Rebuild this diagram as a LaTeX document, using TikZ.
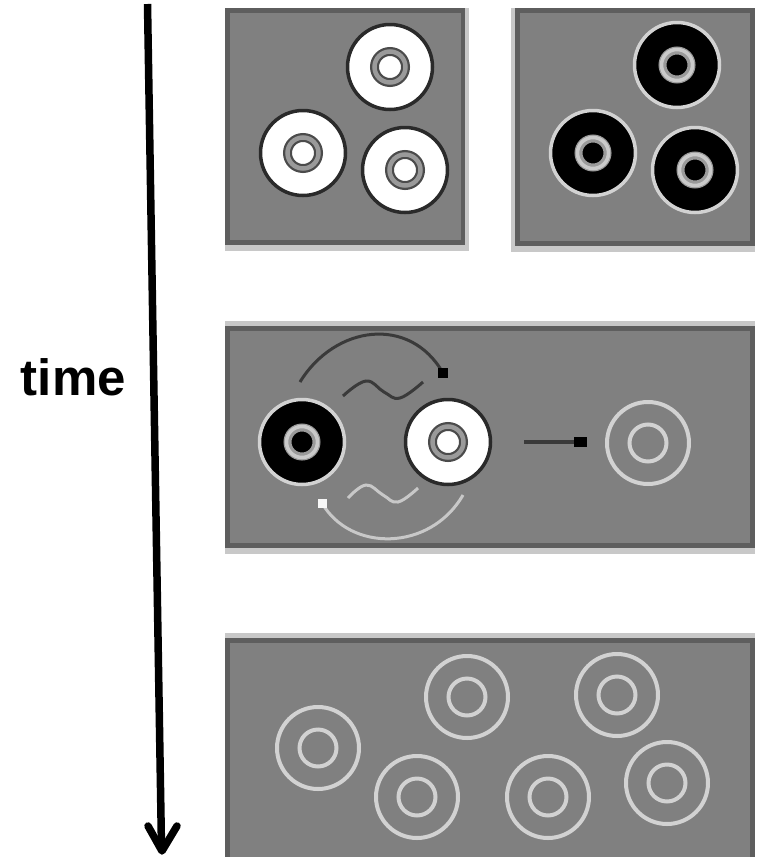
\documentclass[tikz,border=0pt]{standalone}
\usepackage{fontspec}
\usetikzlibrary{calc}
\newfontfamily\labelfont{Liberation Sans}
\definecolor{panelgray}{HTML}{808080}
\definecolor{paneldark}{HTML}{5E5E5E}
\definecolor{lightstrip}{HTML}{C8C8C8}
\definecolor{ringdark}{HTML}{2A2A2A}
\definecolor{ringmid}{HTML}{9A9A9A}
\definecolor{ringlight}{HTML}{D2D2D2}
\definecolor{wavedark}{HTML}{3A3A3A}
\tikzset{
  whitedisc/.pic={
    \draw[draw=ringdark, fill=white, line width=3.5pt] (0,0) circle[radius=42.5pt];
    \draw[draw=paneldark!80!black, line width=9pt] (0,0) circle[radius=15.5pt];
    \draw[draw=ringmid, line width=4.5pt] (0,0) circle[radius=15.5pt];
  },
  blackdisc/.pic={
    \draw[draw=ringlight, fill=black, line width=3.5pt] (0,0) circle[radius=42.5pt];
    \draw[draw=ringmid, line width=8pt] (0,0) circle[radius=14.5pt];
    \draw[draw=ringlight!90!gray, line width=3.5pt] (0,0) circle[radius=15.5pt];
  },
  fadedisc/.pic={
    \draw[draw=ringlight, line width=4pt] (0,0) circle[radius=41pt];
    \draw[draw=ringlight, line width=4pt] (0,0) circle[radius=18.5pt];
  },
  timeline/.style={line width=7.5pt, black},
  darkarc/.style={draw=wavedark, line width=3pt},
  lightarc/.style={draw=lightstrip, line width=3pt},
}
\begin{document}
\begin{tikzpicture}[x=1pt,y=-1pt]
\useasboundingbox (0,0) rectangle (757,857);
% panels
\fill[lightstrip] (225,8) rectangle (469,251);
\fill[paneldark] (225,8) rectangle (465,245);
\fill[panelgray] (230,13) rectangle (461,240);
\fill[lightstrip] (511,8) rectangle (755,252);
\fill[paneldark] (515,8) rectangle (755,246);
\fill[panelgray] (520,13) rectangle (750,241);
\fill[lightstrip] (225,321) rectangle (755,554);
\fill[paneldark] (225,326) rectangle (755,548);
\fill[panelgray] (230,331) rectangle (750,543);
\fill[lightstrip] (225,633) rectangle (755,857);
\fill[paneldark] (225,638) rectangle (755,857);
\fill[panelgray] (230,643) rectangle (750,857);
% time axis
\coordinate (ttop) at (147.5,4);
\coordinate (tbot) at (161.5,848);
\coordinate (tip) at (162,851);
\coordinate (armL) at (148,826);
\coordinate (armR) at (177,826);
\draw[timeline] (ttop) -- (tbot);
\draw[timeline, line cap=round, line join=round] (armL) -- (tip) -- (armR);
\node[font=\labelfont\bfseries\fontsize{51}{60}\selectfont, anchor=base east, inner sep=0pt] (timelabel) at (126,395) {time};
% top-left panel
\pic at (390,67) {whitedisc};
\pic at (303,153) {whitedisc};
\pic at (405,170) {whitedisc};
% top-right panel
\pic at (677,65) {blackdisc};
\pic at (593,153) {blackdisc};
\pic at (695,170) {blackdisc};
% middle panel
\coordinate (bl) at (302,442);
\coordinate (wh) at (448,442);
\coordinate (fd) at (648,443);
\pic at (bl) {blackdisc};
\pic at (wh) {whitedisc};
\pic at (fd) {fadedisc};
\coordinate (a1) at (300,382);
\coordinate (a2) at (443,373);
\draw[darkarc] (a1) .. controls (335,325) and (410,315) .. (a2);
\fill[black] ($(a2)+(-5,-5)$) rectangle ($(a2)+(5,5)$);
\draw[darkarc, line width=3pt] plot[smooth, tension=0.7] coordinates {(343,396) (366,381) (384,392) (400,398) (423,382)};
\coordinate (b1) at (322,503);
\coordinate (b2) at (463,495);
\draw[lightarc] (b1) .. controls (350,552) and (430,552) .. (b2);
\fill[white!94!gray] ($(b1)+(-4.5,-4.5)$) rectangle ($(b1)+(4.5,4.5)$);
\draw[lightarc] plot[smooth, tension=0.7] coordinates {(348,498) (366,485) (383,495) (398,502) (418,488)};
\coordinate (m1) at (524,442);
\coordinate (m2) at (576,442);
\draw[draw=wavedark, line width=4.5pt] (m1) -- (m2);
\fill[black] (574,437) rectangle (587,447);
% bottom panel
\pic at (318,748) {fadedisc};
\pic at (467,697) {fadedisc};
\pic at (617,695) {fadedisc};
\pic at (417,797) {fadedisc};
\pic at (548,797) {fadedisc};
\pic at (667,783) {fadedisc};
\end{tikzpicture}
\end{document}
